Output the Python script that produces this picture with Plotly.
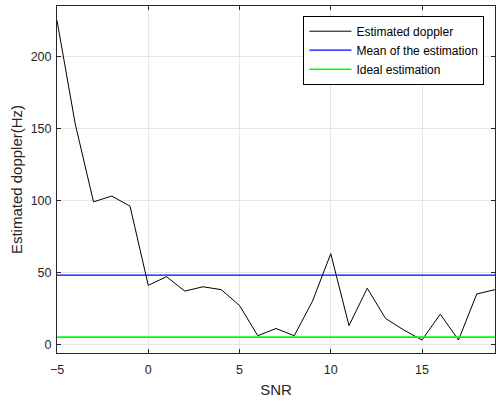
import plotly.graph_objects as go

snr = list(range(-5, 20))
estimated = [225, 153, 99, 103, 96, 41, 47, 37, 40, 38, 27, 6, 11, 6, 30,
             63, 13, 39, 18, 10, 3, 21, 3, 35, 38]
mean_est = [48.1] * len(snr)
ideal = [5] * len(snr)

x_ticks = [-5, 0, 5, 10, 15]
y_ticks = [0, 50, 100, 150, 200]

axcol = "#262626"
fam = "Liberation Sans, Arial, sans-serif"
tickfont = dict(family=fam, size=12.5, color=axcol)
titlefont = dict(family=fam, size=15, color=axcol)

fig = go.Figure()
fig.add_trace(go.Scatter(x=snr, y=estimated, mode="lines", name="Estimated doppler",
                         line=dict(color="#000000", width=1)))
fig.add_trace(go.Scatter(x=snr, y=mean_est, mode="lines", name="Mean of the estimation",
                         line=dict(color="rgb(0,0,255)", width=1.3)))
fig.add_trace(go.Scatter(x=snr, y=ideal, mode="lines", name="Ideal estimation",
                         line=dict(color="rgb(0,255,0)", width=1.6)))

axis_common = dict(showline=True, linecolor=axcol, linewidth=1, mirror="ticks",
                   ticks="inside", ticklen=4, tickcolor=axcol,
                   showgrid=True, gridcolor="#e6e6e6", gridwidth=1,
                   zeroline=False, tickfont=tickfont)

fig.update_xaxes(range=[-5, 19], tickvals=x_ticks, ticklabelstandoff=5,
                 title=dict(text="SNR", font=titlefont, standoff=8),
                 **axis_common)
fig.update_yaxes(range=[-6, 235], tickvals=y_ticks, ticklabelstandoff=2,
                 title=dict(text="Estimated doppler(Hz)", font=titlefont, standoff=4),
                 **axis_common)

fig.update_layout(
    width=496, height=401,
    margin=dict(l=57, r=1, t=6, b=48),
    paper_bgcolor="white", plot_bgcolor="white",
    font=tickfont,
    showlegend=True,
    legend=dict(x=0.5626, y=0.972, xanchor="left", yanchor="top",
                bgcolor="white", bordercolor="#000000", borderwidth=1,
                font=dict(family=fam, size=12, color="#000000"),
                itemwidth=42, tracegroupgap=0),
)

fig.write_html("out.html")
